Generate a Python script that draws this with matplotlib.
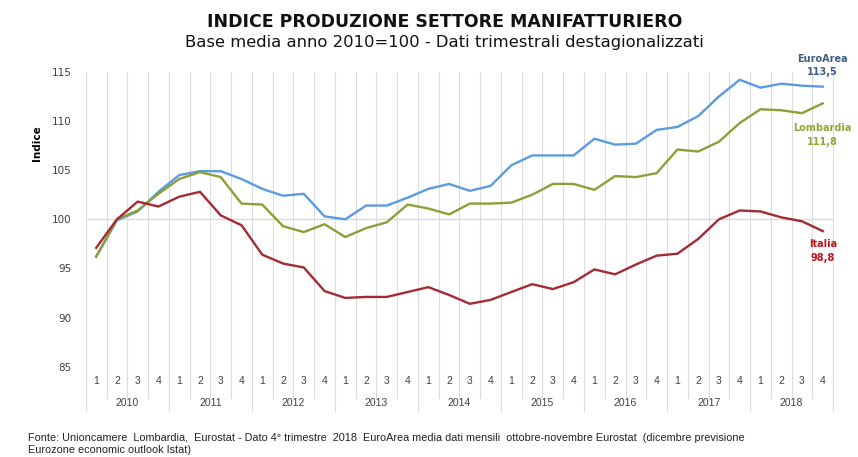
import matplotlib.pyplot as plt

# dati trimestrali 2010Q1 - 2018Q4
anni = ['2010', '2011', '2012', '2013', '2014', '2015', '2016', '2017', '2018']
trimestri = ['1', '2', '3', '4']

euroarea = [96.2, 99.9, 100.8, 102.8, 104.5, 104.9, 104.9, 104.1,
            103.1, 102.4, 102.6, 100.3, 100.0, 101.4, 101.4, 102.2,
            103.1, 103.6, 102.9, 103.4, 105.5, 106.5, 106.5, 106.5,
            108.2, 107.6, 107.7, 109.1, 109.4, 110.5, 112.5, 114.2,
            113.4, 113.8, 113.6, 113.5]
lombardia = [96.2, 100.0, 100.9, 102.6, 104.1, 104.8, 104.3, 101.6,
             101.5, 99.3, 98.7, 99.5, 98.2, 99.1, 99.7, 101.5,
             101.1, 100.5, 101.6, 101.6, 101.7, 102.5, 103.6, 103.6,
             103.0, 104.4, 104.3, 104.7, 107.1, 106.9, 107.9, 109.8,
             111.2, 111.1, 110.8, 111.8]
italia = [97.1, 100.0, 101.8, 101.3, 102.3, 102.8, 100.4, 99.4,
          96.4, 95.5, 95.1, 92.7, 92.0, 92.1, 92.1, 92.6,
          93.1, 92.3, 91.4, 91.8, 92.6, 93.4, 92.9, 93.6,
          94.9, 94.4, 95.4, 96.3, 96.5, 98.0, 100.0, 100.9,
          100.8, 100.2, 99.8, 98.8]

c_euro = '#5b9be0'
c_lomb = '#8c9f38'
c_ita = '#a32b33'

fig = plt.figure(figsize=(8.58, 4.57), dpi=100)
ax = fig.add_axes([0.100, 0.1976, 0.871, 0.645])

n = len(euroarea)
x = list(range(n))

ax.axhline(100, color='#d9d9d9', lw=0.9, zorder=1)

ax.plot(x, euroarea, color=c_euro, lw=1.7, zorder=3)
ax.plot(x, lombardia, color=c_lomb, lw=1.7, zorder=3)
ax.plot(x, italia, color=c_ita, lw=1.7, zorder=3)

ax.set_xlim(-0.5, n - 0.5)
ax.set_ylim(85, 115)
ax.set_yticks(range(85, 116, 5))
ax.tick_params(axis='y', length=0, labelsize=7.5, labelcolor='#404040', pad=10)
ax.set_xticks([])
for s in ax.spines.values():
    s.set_visible(False)

# griglia verticale + assi categorie
trans = ax.get_xaxis_transform()
for i in range(n + 1):
    xb = i - 0.5
    y0 = -0.15 if i % 4 == 0 else -0.105
    ax.plot([xb, xb], [1, y0], transform=trans, color='#dcdcdc', lw=0.8,
            clip_on=False, zorder=0)

for i in range(n):
    ax.text(i, -0.05, trimestri[i % 4], transform=trans, ha='center', va='center',
            fontsize=7.5, color='#404040', family='Liberation Sans')
for k, a in enumerate(anni):
    ax.text(4 * k + 1.5, -0.122, a, transform=trans, ha='center', va='center',
            fontsize=7.5, color='#404040', family='Liberation Sans')

ax.set_ylabel('Indice', fontsize=7.5, fontweight='bold', labelpad=4)
ax.yaxis.set_label_coords(-0.058, 0.76)

# etichette finali
ax.text(n - 1, 114.5, 'EuroArea\n113,5', ha='center', va='bottom', fontsize=7,
        fontweight='bold', color='#3d5f86', linespacing=1.4)
ax.text(n - 1, 107.4, 'Lombardia\n111,8', ha='center', va='bottom', fontsize=7,
        fontweight='bold', color='#92a63a', linespacing=1.4)
ax.text(n - 1, 95.6, 'Italia\n98,8', ha='center', va='bottom', fontsize=7,
        fontweight='bold', color='#c0141c', linespacing=1.4)

fig.text(0.518, 0.951, 'INDICE PRODUZIONE SETTORE MANIFATTURIERO', ha='center',
         va='center', fontsize=12.5, fontweight='bold', color='#111111')
fig.text(0.518, 0.906, 'Base media anno 2010=100 - Dati trimestrali destagionalizzati',
         ha='center', va='center', fontsize=11.8, color='#111111')

fig.text(0.033, 0.028, 'Fonte: Unioncamere  Lombardia,  Eurostat - Dato 4° trimestre  2018  '
         'EuroArea media dati mensili  ottobre-novembre Eurostat  (dicembre previsione\n'
         'Eurozone economic outlook Istat)', ha='left', va='center', fontsize=7.8,
         color='#222222', family='Liberation Sans', linespacing=1.3)

fig.savefig('out.png', dpi=100)
